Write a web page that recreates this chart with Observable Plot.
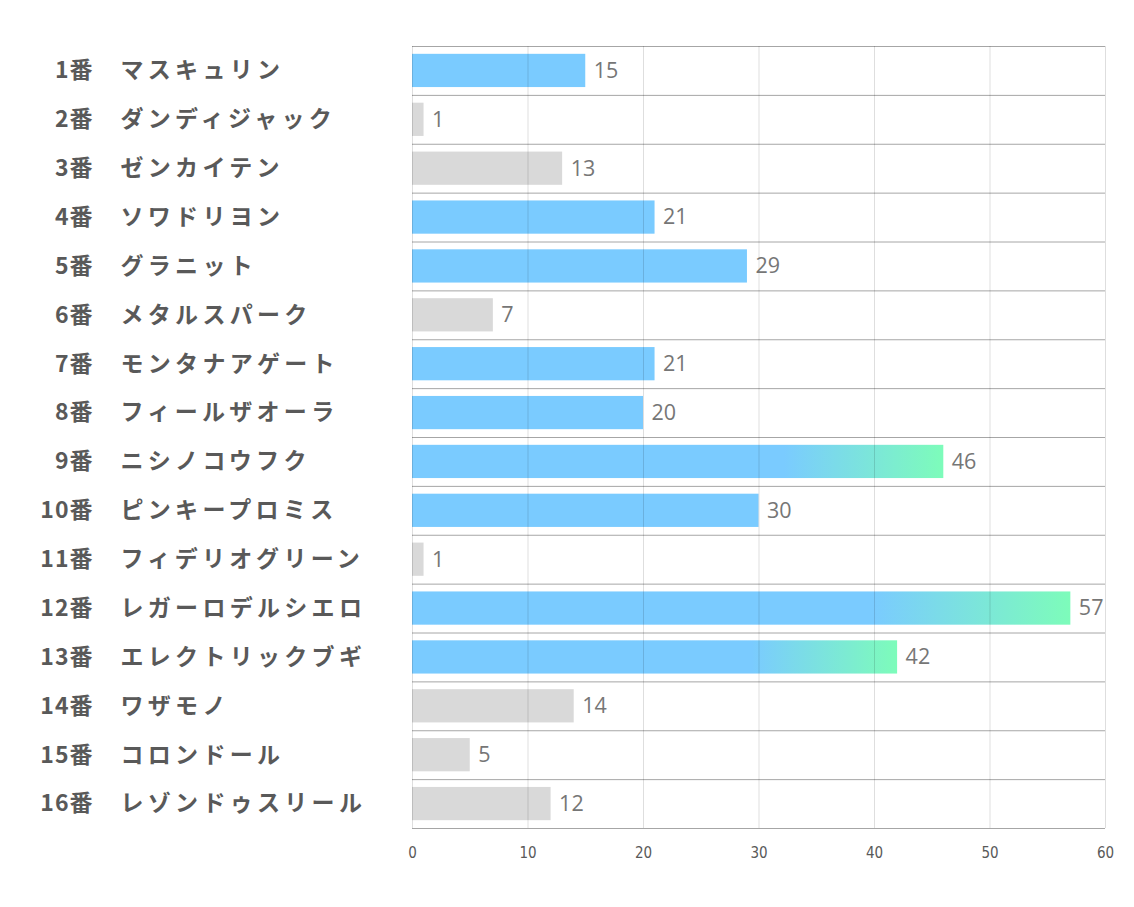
<!DOCTYPE html>
<html>
<head>
<meta charset="utf-8">
<script src="https://cdn.jsdelivr.net/npm/d3@7"></script>
<script src="https://cdn.jsdelivr.net/npm/@observablehq/plot@0.6"></script>
<style>
  html, body { margin: 0; padding: 0; background: #fff; }
  #chart svg { display: block; }
</style>
</head>
<body>
<div id="chart"></div>
<script>
const nums = ["1番","2番","3番","4番","5番","6番","7番","8番","9番","10番","11番","12番","13番","14番","15番","16番"];
const names = ["マスキュリン","ダンディジャック","ゼンカイテン","ソワドリヨン","グラニット","メタルスパーク","モンタナアゲート","フィールザオーラ","ニシノコウフク","ピンキープロミス","フィデリオグリーン","レガーロデルシエロ","エレクトリックブギ","ワザモノ","コロンドール","レゾンドゥスリール"];
const values = [15, 1, 13, 21, 29, 7, 21, 20, 46, 30, 1, 57, 42, 14, 5, 12];
const kinds = ["blue","gray","gray","blue","blue","gray","blue","blue","grad","blue","gray","grad","grad","gray","gray","gray"];
const xTicks = [0, 10, 20, 30, 40, 50, 60];

const data = nums.map((n, i) => ({num: n, name: names[i], value: values[i], kind: kinds[i], key: String(i)}));
const keys = data.map(d => d.key);

const W = 1134, H = 907;
const mT = 46, mB = 79, mL = 412, mR = 29;
const step = (H - mT - mB) / data.length;
const half = step / 2;

const chart = Plot.plot({
  width: W,
  height: H,
  marginTop: mT,
  marginBottom: mB,
  marginLeft: mL,
  marginRight: mR,
  style: {background: "#fff"},
  x: {domain: [0, 60], ticks: xTicks, label: null},
  y: {domain: keys, paddingInner: 0.32, paddingOuter: 0.16, round: false, axis: null},
  marks: [
    Plot.ruleY(data, {y: "key", dy: -half, stroke: "#a6a6a6", strokeWidth: 1}),
    Plot.ruleY([data[data.length - 1]], {y: "key", dy: half, stroke: "#a6a6a6", strokeWidth: 1}),
    Plot.barX(data.filter(d => d.kind === "gray"), {x: "value", y: "key", fill: "#d9d9d9"}),
    Plot.barX(data.filter(d => d.kind === "blue"), {x: "value", y: "key", fill: "#7acbff"}),
    Plot.barX(data.filter(d => d.kind === "grad"), {x: "value", y: "key", fill: "url(#barGrad)"}),
    Plot.gridX(xTicks, {stroke: "#000", strokeOpacity: 0.13}),
    Plot.axisX(xTicks, {tickSize: 0, tickPadding: 19, fontSize: 15, color: "#595959", label: null,
      fontFamily: "'Liberation Sans Narrow','DejaVu Sans Condensed',sans-serif", tickFormat: d => String(d)}),
    Plot.text(data, {x: "value", y: "key", text: d => String(d.value), textAnchor: "start", dx: 8,
      fill: "#767676", fontSize: 21.5, fontFamily: "'Open Sans','Noto Sans',sans-serif"}),
    Plot.text(data, {y: "key", text: "num", frameAnchor: "left", dx: 93 - mL, textAnchor: "end",
      fill: "#595959", fontSize: 23, fontWeight: "bold", fontFamily: "'Noto Sans CJK JP',sans-serif"}),
    Plot.text(data, {y: "key", text: "name", frameAnchor: "left", dx: 120 - mL, textAnchor: "start",
      fill: "#595959", fontSize: 23, fontWeight: "bold", fontFamily: "'Noto Sans CJK JP',sans-serif"})
  ]
});

const svg = d3.select(chart);
const defs = svg.insert("defs", ":first-child");
const g = defs.append("linearGradient").attr("id", "barGrad").attr("x1", "0").attr("x2", "1").attr("y1", "0").attr("y2", "0");
g.append("stop").attr("offset", "0.7").attr("stop-color", "#7acbff");
g.append("stop").attr("offset", "1").attr("stop-color", "#7dfcba");

// letter spacing for the horse names (last text mark) and the numbers
const textGroups = svg.selectAll('g[aria-label="text"]').nodes();
d3.select(textGroups[textGroups.length - 1]).style("letter-spacing", "4.3px");
d3.select(textGroups[textGroups.length - 2]).style("letter-spacing", "1px");

document.getElementById("chart").appendChild(chart);
</script>
</body>
</html>
